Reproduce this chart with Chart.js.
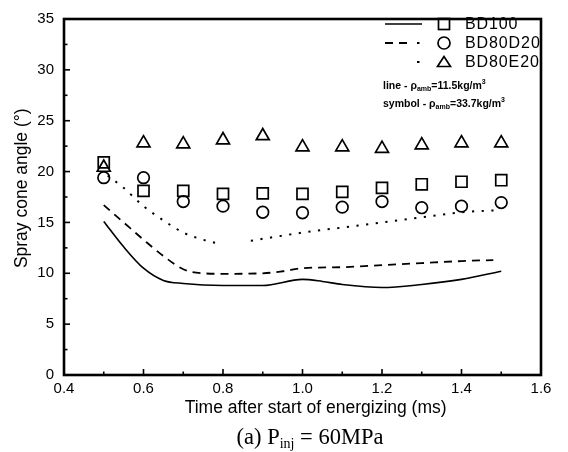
<!DOCTYPE html>
<html>
<head>
<meta charset="utf-8">
<script src="https://cdn.jsdelivr.net/npm/chart.js@4.4.1/dist/chart.umd.min.js"></script>
<style>
html,body{margin:0;padding:0;background:#fff;}
#wrap{position:relative;width:568px;height:452px;overflow:hidden;}
#c{position:absolute;left:0;top:0;}
#lgsvg{position:absolute;left:0;top:0;}
.lg{position:absolute;font-family:"Liberation Sans",Arial,sans-serif;color:#000;white-space:nowrap;line-height:18px;}
.big{font-size:16px;letter-spacing:0.9px;}
.small{font-size:10.5px;font-weight:bold;line-height:14px;}
.small sub{font-size:7px;vertical-align:-2px;}
.small sup{font-size:7px;vertical-align:5px;}
#cap{position:absolute;left:0;width:620px;top:424px;text-align:center;font-family:"Liberation Serif","Times New Roman",serif;font-size:22.5px;line-height:26px;color:#000;}
#cap sub{font-size:14px;vertical-align:-4px;}
</style>
</head>
<body>
<div id="wrap">
<canvas id="c" width="568" height="452"></canvas>
<svg id="lgsvg" width="568" height="120" xmlns="http://www.w3.org/2000/svg">
  <line x1="385" y1="24" x2="422" y2="24" stroke="#000" stroke-width="1.5"/>
  <rect x="438.5" y="18.5" width="11" height="11" fill="none" stroke="#000" stroke-width="1.7"/>
  <path d="M385 43 H393 M399 43 H407 M417 43 H419.5" stroke="#000" stroke-width="1.8" fill="none"/>
  <circle cx="444" cy="43" r="6" fill="none" stroke="#000" stroke-width="1.7"/>
  <path d="M417 62 H419.5" stroke="#000" stroke-width="2" fill="none"/>
  <path d="M444 56.5 L437.5 66.5 L450.5 66.5 Z" fill="none" stroke="#000" stroke-width="1.7"/>
</svg>
<div class="lg big" style="left:465px;top:15px;">BD100</div>
<div class="lg big" style="left:465px;top:34px;">BD80D20</div>
<div class="lg big" style="left:465px;top:53px;">BD80E20</div>
<div class="lg small" style="left:383px;top:75px;">line - ρ<sub>amb</sub>=11.5kg/m<sup>3</sup></div>
<div class="lg small" style="left:383px;top:93px;">symbol - ρ<sub>amb</sub>=33.7kg/m<sup>3</sup></div>
<div id="cap">(a) P<sub>inj</sub> = 60MPa</div>
</div>
<script>
// ---- data ----
const seriesNames = ["BD100", "BD80D20", "BD80E20"];

// lines: rho_amb = 11.5 kg/m3
const lineTimeBD100   = [0.50, 0.55, 0.60, 0.65, 0.70, 0.80, 0.90, 1.00, 1.05, 1.10, 1.20, 1.30, 1.40, 1.50];
const lineAngleBD100  = [15.1, 12.6, 10.5, 9.3, 9.0, 8.8, 8.8, 9.4, 9.2, 8.9, 8.6, 8.9, 9.4, 10.2];

const lineTimeBD80D20  = [0.50, 0.55, 0.60, 0.65, 0.70, 0.75, 0.80, 0.90, 0.95, 1.00, 1.10, 1.20, 1.30, 1.40, 1.48];
const lineAngleBD80D20 = [16.7, 15.0, 13.3, 11.7, 10.4, 10.0, 9.95, 10.0, 10.2, 10.5, 10.6, 10.8, 11.0, 11.2, 11.3];

const lineTimeBD80E20  = [0.51, 0.55, 0.60, 0.65, 0.70, 0.75, 0.79, 0.83, 0.87, 0.95, 1.00, 1.10, 1.20, 1.30, 1.40, 1.49];
const lineAngleBD80E20 = [19.6, 18.4, 16.6, 15.2, 14.0, 13.3, 12.9, null, 13.2, 13.7, 14.0, 14.5, 15.0, 15.5, 16.0, 16.2];

// symbols: rho_amb = 33.7 kg/m3
const symbolTime        = [0.5, 0.6, 0.7, 0.8, 0.9, 1.0, 1.1, 1.2, 1.3, 1.4, 1.5];
const symbolAngleBD100   = [20.9, 18.1, 18.1, 17.8, 17.85, 17.8, 18.0, 18.4, 18.75, 19.0, 19.15];
const symbolAngleBD80D20 = [19.4, 19.4, 17.05, 16.6, 16.0, 15.95, 16.5, 17.05, 16.45, 16.6, 16.95];
const symbolAngleBD80E20 = [20.4, 22.8, 22.7, 23.1, 23.5, 22.4, 22.4, 22.25, 22.6, 22.8, 22.8];

// axes
const xMin = 0.4, xMax = 1.6, xStep = 0.2, xMinorStep = 0.1;
const yMin = 0, yMax = 35, yStep = 5, yMinorStep = 2.5;
const xTitle = "\u2002\u2002\u2002Time after start of energizing (ms)";
const yTitle = "\u2002\u2002Spray cone angle (°)";

const pts = (xs, ys) => xs.map((x, i) => ({x: x, y: ys[i]}));

const framePlugin = {
  id: 'frame',
  afterDatasetsDraw(chart) {
    const {ctx, chartArea: a, scales: {x, y}} = chart;
    ctx.save();
    ctx.strokeStyle = '#000';
    ctx.lineWidth = 1.6;
    const nY = Math.round((yMax - yMin) / yMinorStep);
    for (let k = 0; k <= nY; k++) {
      const v = yMin + k * yMinorStep;
      const py = y.getPixelForValue(v);
      const len = (k % 2 === 0) ? 6 : 3.5;
      ctx.beginPath(); ctx.moveTo(a.left, py); ctx.lineTo(a.left + len, py); ctx.stroke();
    }
    const nX = Math.round((xMax - xMin) / xMinorStep);
    for (let k = 0; k <= nX; k++) {
      const v = xMin + k * xMinorStep;
      const px = x.getPixelForValue(v);
      const len = (k % 2 === 0) ? 6 : 3.5;
      ctx.beginPath(); ctx.moveTo(px, a.bottom); ctx.lineTo(px, a.bottom - len); ctx.stroke();
    }
    ctx.lineWidth = 2.6;
    ctx.strokeRect(a.left, a.top, a.right - a.left, a.bottom - a.top);
    ctx.restore();
  }
};

const lineDs = (label, xs, ys, dash, width) => ({
  label: label, type: 'line', data: pts(xs, ys), showLine: true,
  borderColor: '#000', borderWidth: width, borderDash: dash,
  pointRadius: 0, tension: 0.35, cubicInterpolationMode: 'monotone', spanGaps: false, fill: false
});
const symDs = (label, ys, style, r) => ({
  label: label, type: 'scatter', data: pts(symbolTime, ys), showLine: false,
  pointStyle: style, pointRadius: r, pointHoverRadius: r,
  pointBorderColor: '#000', pointBackgroundColor: 'rgba(0,0,0,0)', pointBorderWidth: 1.7
});

new Chart(document.getElementById('c'), {
  type: 'scatter',
  data: {
    datasets: [
      lineDs(seriesNames[0] + ' line', lineTimeBD100, lineAngleBD100, [], 1.6),
      lineDs(seriesNames[1] + ' line', lineTimeBD80D20, lineAngleBD80D20, [8, 6], 1.8),
      lineDs(seriesNames[2] + ' line', lineTimeBD80E20, lineAngleBD80E20, [2.2, 7.5], 2),
      symDs(seriesNames[0], symbolAngleBD100, 'rect', 7.8),
      symDs(seriesNames[1], symbolAngleBD80D20, 'circle', 5.8),
      symDs(seriesNames[2], symbolAngleBD80E20, 'triangle', 7.5)
    ]
  },
  options: {
    responsive: false,
    animation: false,
    devicePixelRatio: 1,
    layout: {padding: {left: 0, right: 27, top: 15, bottom: 32}},
    plugins: {legend: {display: false}, tooltip: {enabled: false}},
    scales: {
      x: {
        type: 'linear', min: xMin, max: xMax,
        afterFit: s => { s.height = 45; },
        ticks: {stepSize: xStep, autoSkip: false, maxRotation: 0, padding: 5, color: '#000',
                font: {family: '"Liberation Sans", Arial, sans-serif', size: 15},
                callback: v => v.toFixed(1)},
        grid: {display: true, drawOnChartArea: false, drawTicks: false},
        border: {display: false},
        title: {display: true, text: xTitle, color: '#000',
                font: {family: '"Liberation Sans", Arial, sans-serif', size: 17.5},
                padding: {top: 0, bottom: 1.5}}
      },
      y: {
        type: 'linear', min: yMin, max: yMax,
        afterFit: s => { s.width = 64; },
        ticks: {stepSize: yStep, padding: 10, color: '#000',
                font: {family: '"Liberation Sans", Arial, sans-serif', size: 15}},
        grid: {display: true, drawOnChartArea: false, drawTicks: false},
        border: {display: false},
        title: {display: true, text: yTitle, color: '#000',
                font: {family: '"Liberation Sans", Arial, sans-serif', size: 17.5},
                padding: {top: 11.5, bottom: 0}}
      }
    }
  },
  plugins: [framePlugin]
});
</script>
</body>
</html>
